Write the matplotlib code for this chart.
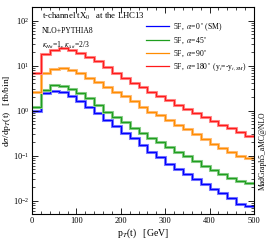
import numpy as np
import matplotlib
matplotlib.use("Agg")
import matplotlib.pyplot as plt
from matplotlib.ticker import MultipleLocator, LogLocator, NullFormatter

plt.rcParams['font.family'] = ['Liberation Serif', 'DejaVu Serif']
plt.rcParams['mathtext.fontset'] = 'stix'

edges = list(range(0, 520, 20))
blue = [0.98, 2.4, 2.7, 2.6, 2.1, 1.6, 1.2, 0.88, 0.62, 0.45, 0.32, 0.24, 0.17,
        0.123, 0.092, 0.066, 0.05, 0.039, 0.03, 0.023, 0.018, 0.015, 0.0115, 0.0085, 0.0074]
green = [1.2, 2.8, 3.7, 3.5, 3.0, 2.4, 1.86, 1.3, 0.95, 0.72, 0.56, 0.42, 0.32,
         0.245, 0.2, 0.154, 0.123, 0.1, 0.077, 0.06, 0.048, 0.038, 0.032, 0.027, 0.024]
orange = [2.6, 6.8, 8.6, 8.8, 8.0, 6.7, 5.4, 4.4, 3.4, 2.6, 2.1, 1.65, 1.2,
          0.93, 0.79, 0.61, 0.49, 0.38, 0.3, 0.23, 0.18, 0.15, 0.12, 0.1, 0.09]
red = [6.7, 17.9, 22.4, 24.5, 22.4, 18.8, 15.8, 12.5, 9.5, 7.0, 5.3, 4.2, 3.3,
       2.6, 2.1, 1.7, 1.35, 1.1, 0.88, 0.72, 0.6, 0.48, 0.4, 0.33, 0.27]
labels = [r"5F,  $\alpha$=0$^\circ$ (SM)", r"5F,  $\alpha$=45$^\circ$",
          r"5F,  $\alpha$=90$^\circ$", r"5F,  $\alpha$=180$^\circ$ (y$_t$=-y$_{t,SM}$)"]
colors = ["#0000ff", "#1e9e1e", "#ff8c00", "#ff1a1a"]
light = ["#8080ff", "#90d090", "#ffc080", "#ff9090"]

fig = plt.figure(figsize=(2.70, 2.43), dpi=100)
ax = fig.add_axes([0.1185, 0.119, 0.822, 0.852])

for vals, c, lc, lab in zip([blue, green, orange, red], colors, light, labels):
    ax.stairs(vals, edges, color=lc, lw=2.2, baseline=None)
    ax.stairs(vals, edges, color=c, lw=0.9, baseline=None, label=lab)

ax.set_yscale('log')
ax.set_xlim(0, 500)
ax.set_ylim(5e-3, 2e2)
ax.xaxis.set_major_locator(MultipleLocator(100))
ax.xaxis.set_minor_locator(MultipleLocator(20))
ax.yaxis.set_major_locator(LogLocator(base=10, numticks=10))
ax.yaxis.set_minor_locator(LogLocator(base=10, subs=np.arange(2, 10), numticks=20))
ax.yaxis.set_minor_formatter(NullFormatter())
ax.tick_params(which='both', direction='in', top=True, right=True, labelsize=6, pad=2)
ax.tick_params(which='major', length=4, width=0.6)
ax.tick_params(which='minor', length=2, width=0.5)
for s in ax.spines.values():
    s.set_linewidth(0.8)

ax.set_xlabel(r"p$_T$(t)   [GeV]", fontsize=7, labelpad=1)
ax.set_ylabel(r"d$\sigma$/dp$_T$(t)   [fb/bin]", fontsize=6.8)
ax.yaxis.set_label_coords(-0.085, 0.5)

ax.text(0.045, 0.957, r"t-channel tX$_0$   at the LHC13", transform=ax.transAxes,
        fontsize=6.3, va='center', ha='left')
ax.text(0.045, 0.884, "NLO+PYTHIA8", transform=ax.transAxes, fontsize=5.5, va='center', ha='left')
ax.text(0.045, 0.82, r"$\kappa_{Htt}$=1, $\kappa_{Att}$=2/3", transform=ax.transAxes,
        fontsize=5.5, va='center', ha='left')

leg = ax.legend(loc='upper right', bbox_to_anchor=(0.99, 0.955), fontsize=5.5, frameon=False,
                handlelength=3.0, handletextpad=0.6, labelspacing=0.35, borderaxespad=0.2)

fig.text(0.972, 0.38, "MadGraph5_aMC@NLO", rotation=90, fontsize=5.5, ha='center', va='center')

fig.savefig("out.png", dpi=100)
